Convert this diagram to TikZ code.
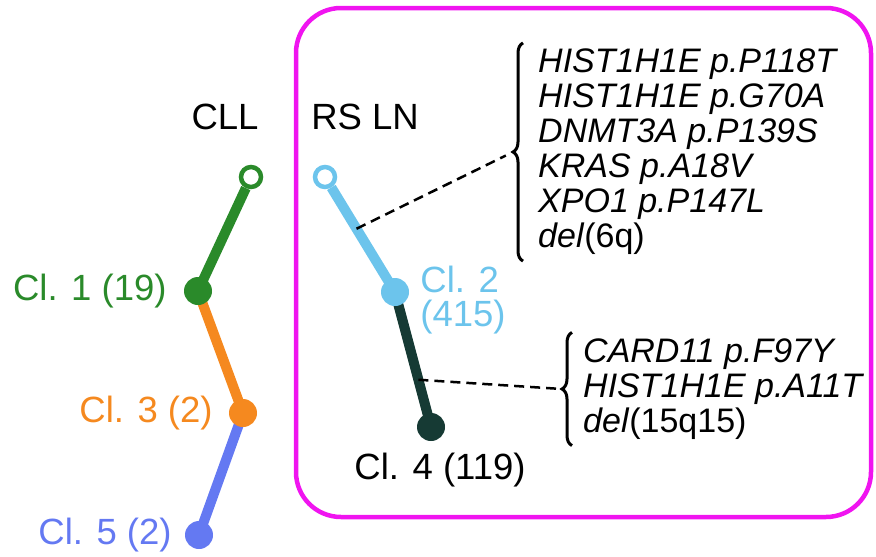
\documentclass[tikz,border=0pt]{standalone}
\usepackage{fontspec}
\setmainfont{Liberation Sans}
\usetikzlibrary{positioning,calc,backgrounds,decorations.pathreplacing}

\definecolor{clgreen}{HTML}{2A8A2A}
\definecolor{clorange}{HTML}{F5891F}
\definecolor{clblue}{HTML}{6479F2}
\definecolor{clsky}{HTML}{6CC4EC}
\definecolor{cldark}{HTML}{163A34}
\definecolor{rsframe}{HTML}{F014F0}

\begin{document}
\begin{tikzpicture}[x=1pt, y=-1pt,
  dot/.style={circle, inner sep=0pt, minimum size=28pt, fill=#1},
  root/.style={circle, draw=#1, line width=4.5pt, fill=white, inner sep=0pt, minimum size=20pt},
  edge/.style={line width=10pt, draw=#1},
  lab/.style={font=\fontsize{36.5}{34}\selectfont, text=#1, inner sep=2pt},
  muts/.style={font=\fontsize{34}{35}\selectfont\itshape, align=left, inner xsep=0pt, inner ysep=6pt},
  brace/.style={decorate, decoration={brace, amplitude=10pt}, line width=3pt},
  link/.style={line width=2.5pt, dash pattern=on 10pt off 6pt}
]
\useasboundingbox (0,0) rectangle (876,557);

% frame round the RS lymph node
\draw[rsframe, line width=4.5pt, rounded corners=45pt] (296,8) rectangle (871,517);

% CLL branch
\node at (225,117) {\fontsize{36.5}{40}\selectfont CLL};
\node[root=clgreen] (cll0) at (251,177) {};
\node[dot=clgreen] (cl1) at (198,291) {};
\node[dot=clorange] (cl3) at (243,413) {};
\node[dot=clblue] (cl5) at (199,535) {};

\node[lab=clgreen, left=15pt of cl1] {Cl. 1 (19)};
\node[lab=clorange, left=14pt of cl3] {Cl. 3 (2)};
\node[lab=clblue, left=11pt of cl5] {Cl. 5 (2)};

% RS LN branch
\node at (365,117) {\fontsize{36.5}{40}\selectfont RS LN};
\node[root=clsky] (rs0) at (325,177) {};
\node[dot=clsky] (cl2) at (395,292) {};
\node[dot=cldark] (cl4) at (431,427) {};

\node[lab=clsky, align=left, right=9pt of cl2, yshift=-8pt] {Cl. 2\\(415)};
\node[lab=black, below=10pt of cl4, xshift=9pt] {Cl. 4 (119)};

% mutations gained on each branch
\node[muts, anchor=west] (mut1) at (538,152)
  {HIST1H1E p.P118T\\HIST1H1E p.G70A\\DNMT3A p.P139S\\KRAS p.A18V\\XPO1 p.P147L\\del\textup{(6q)}};
\node[muts, anchor=west] (mut2) at (583,389)
  {CARD11 p.F97Y\\HIST1H1E p.A11T\\del\textup{(15q15)}};

\draw[brace] ([xshift=-15pt]mut1.south west) -- ([xshift=-15pt]mut1.north west);
\draw[brace] ([xshift=-11pt]mut2.south west) -- ([xshift=-11pt]mut2.north west);
\coordinate (tip1) at ([xshift=-25pt]mut1.west);
\coordinate (tip2) at ([xshift=-21pt]mut2.west);

\begin{scope}[on background layer]
  \draw[edge=clgreen] (cll0) -- (cl1.center);
  \draw[edge=clorange] (cl1.center) -- (cl3.center);
  \draw[edge=clblue] (cl3.center) -- (cl5.center);
  \draw[edge=clsky] (rs0) -- (cl2.center);
  \draw[edge=cldark] (cl2.center) -- (cl4.center);
  \draw[link, shorten >=8pt] ($(rs0)!0.45!(cl2)$) -- (tip1);
  \draw[link, shorten >=6pt] ($(cl2)!0.65!(cl4)$) -- (tip2);
\end{scope}
\end{tikzpicture}
\end{document}
